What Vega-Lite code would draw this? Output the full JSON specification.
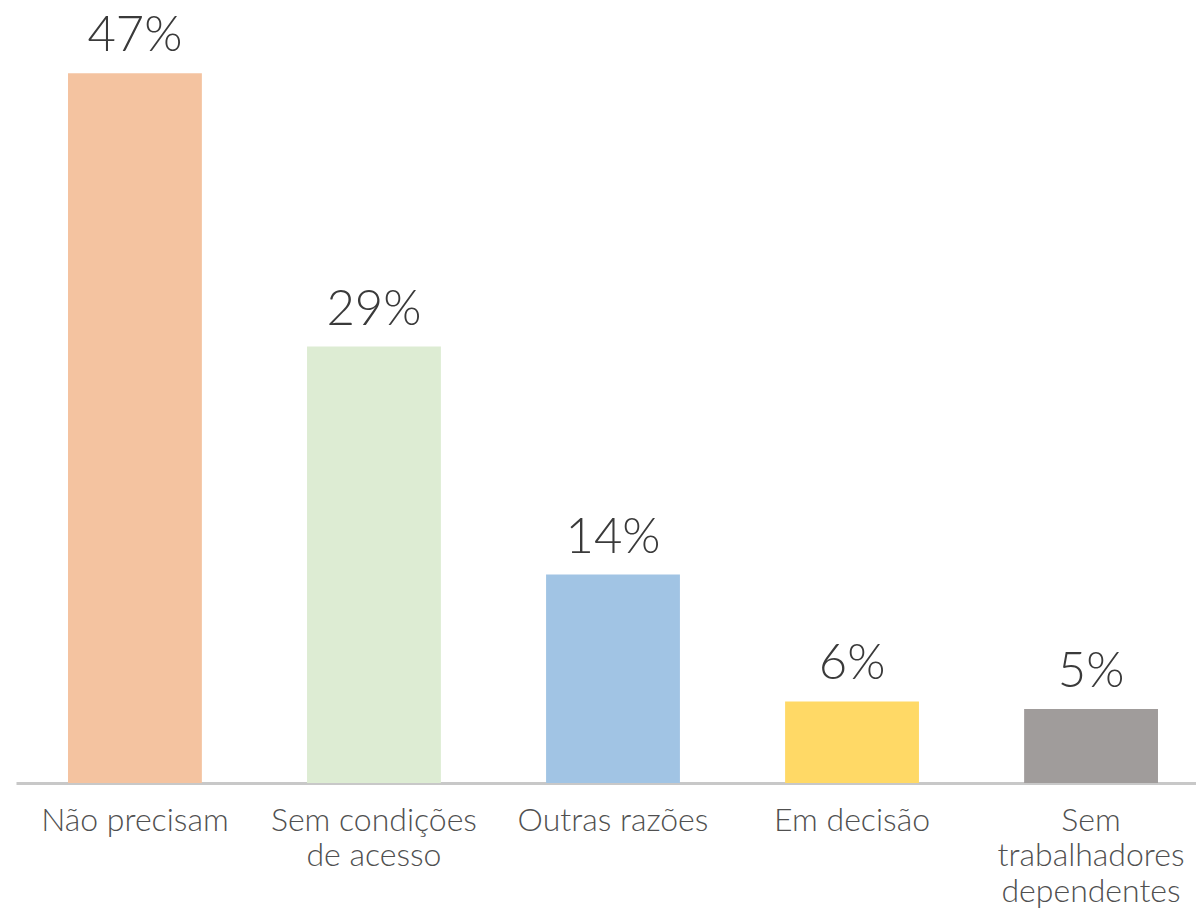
{
  "$schema": "https://vega.github.io/schema/vega-lite/v6.json",
  "autosize": "none",
  "width": 1180,
  "height": 755,
  "padding": {"left": 16, "top": 28, "right": 0, "bottom": 126},
  "background": "white",
  "config": {"view": {"stroke": null}, "font": "Lato"},
  "data": {
    "values": [
      {"cat": "Não precisam", "value": 47.0, "label": "47%", "color": "#F4C3A0"},
      {"cat": "Sem condições|de acesso", "value": 28.9, "label": "29%", "color": "#DDECD3"},
      {"cat": "Outras razões", "value": 13.8, "label": "14%", "color": "#A1C4E4"},
      {"cat": "Em decisão", "value": 5.4, "label": "6%", "color": "#FFD966"},
      {"cat": "Sem|trabalhadores|dependentes", "value": 4.9, "label": "5%", "color": "#A09C9B"}
    ]
  },
  "encoding": {
    "x": {
      "field": "cat",
      "type": "nominal",
      "sort": null,
      "scale": {"range": [0, 1194], "paddingInner": 0.44, "paddingOuter": 0.2176},
      "axis": {
        "title": null,
        "labelAngle": 0,
        "labelExpr": "split(datum.label, '|')",
        "labelFont": "Lato",
        "labelFontSize": 32,
        "labelFontWeight": 300,
        "labelColor": "#505050",
        "labelPadding": 22,
        "labelLineHeight": 35.5,
        "labelLimit": 300,
        "ticks": false,
        "domainColor": "#C8C8C8",
        "domainWidth": 3,
        "grid": false
      }
    },
    "y": {
      "field": "value",
      "type": "quantitative",
      "scale": {"domain": [0, 50], "nice": false},
      "axis": null
    }
  },
  "layer": [
    {
      "mark": {"type": "bar"},
      "encoding": {"color": {"field": "color", "type": "nominal", "scale": null, "legend": null}}
    },
    {
      "mark": {"type": "text", "baseline": "alphabetic", "dy": -22, "fontSize": 49, "fontWeight": 300, "color": "#3A3A3A", "font": "Lato"},
      "encoding": {"text": {"field": "label"}}
    }
  ]
}
